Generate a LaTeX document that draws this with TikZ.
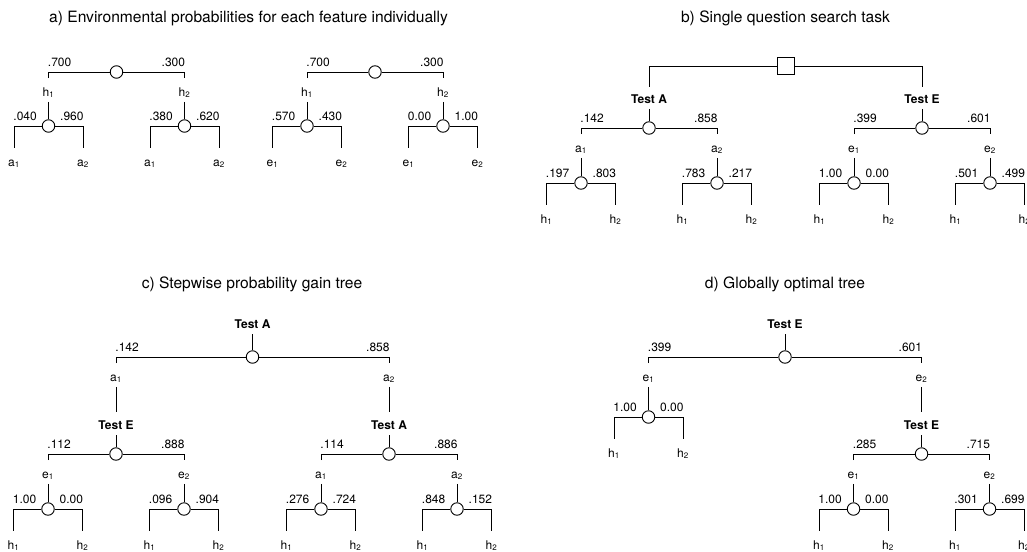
\documentclass[tikz,border=0pt,12pt]{standalone}
\usepackage{fontspec}
\setmainfont{TeX Gyre Heros}
\usepackage{tikz}

\begin{document}
\begin{tikzpicture}[x=1pt,y=-1pt,line width=0.9pt]
\tikzstyle{chance}=[circle,draw,fill=white,minimum size=12.5pt,inner sep=0pt]
\tikzstyle{choice}=[rectangle,draw,fill=white,minimum size=17pt,inner sep=0pt]
\tikzstyle{title}=[anchor=base,font=\fontsize{15.6}{18}\selectfont]
\tikzstyle{prob}=[inner sep=0pt]
\tikzstyle{outc}=[inner sep=0pt,text height=9pt,text depth=3pt,anchor=base]
\tikzstyle{test}=[font=\bfseries,inner sep=0pt,text height=9pt,text depth=0pt,anchor=base]
\tikzstyle{down}=[shorten <=2.5pt]
\useasboundingbox (0,0) rectangle (1027,551);
% panel titles
\foreach \name/\x/\y/\txt in {
	ta/248.5/22.5/{a) Environmental probabilities for each feature individually},
	tb/785.5/22.5/{b) Single question search task},
	tc/252/288/{c) Stepwise probability gain tree},
	td/785/288/{d) Globally optimal tree}}
	\node[title] (\name) at (\x,\y) {\txt};
% chance nodes with their two branches
\foreach \name/\x/\y/\w/\pa/\pb/\v/\dy/\s in {
	a1/116.5/72/68/.700/.300/h/24/8.5,
	a2/48.5/126/34.5/.040/.960/a/40/9,
	a3/184.5/126/34.5/.380/.620/a/40/9,
	a4/375/72/68/.700/.300/h/24/8.5,
	a5/307/126/34.5/.570/.430/e/40/9,
	a6/443/126/34.5/0.00/1.00/e/40/9,
	b1/649/128/68/.142/.858/a/24/8.5,
	b2/581/183/34.5/.197/.803/h/40/9,
	b3/717/183/34.5/.783/.217/h/40/9,
	b4/922/128/68/.399/.601/e/24/8.5,
	b5/854/183/34.5/1.00/0.00/h/40/9,
	b6/990/183/34.5/.501/.499/h/40/9,
	c1/252.5/357/136.5/.142/.858/a/24/8.5,
	c2/116/454/68/.112/.888/e/24/8.5,
	c3/48/509/34.5/1.00/0.00/h/40/9,
	c4/184/509/34.5/.096/.904/h/40/9,
	c5/389/454/68/.114/.886/a/24/8.5,
	c6/321/509/34.5/.276/.724/h/40/9,
	c7/457/509/34.5/.848/.152/h/40/9,
	d1/785/357/136.5/.399/.601/e/24/8.5,
	d2/648.5/417/34.5/1.00/0.00/h/40/9,
	d3/921.5/454/68/.285/.715/e/24/8.5,
	d4/853.5/509/34.5/1.00/0.00/h/40/9,
	d5/989.5/509/34.5/.301/.699/h/40/9}
{
	\node[chance] (\name) at (\x,\y) {};
	\node[prob,anchor=base west] (\name-pa) at (\x-\w-1,\y-5.5) {\pa};
	\node[prob,anchor=base east] (\name-pb) at (\x+\w+1,\y-5.5) {\pb};
	\node[outc] (\name-l) at (\x-\w,\y+\dy) {\v\textsubscript{1}};
	\node[outc] (\name-r) at (\x+\w,\y+\dy) {\v\textsubscript{2}};
	\draw[shorten <=\s pt] (\name-l) |- (\name);
	\draw[shorten >=\s pt] (\name) -| (\name-r);
}
% tests and the choice
\node[choice] (sq) at (785.5,66) {};
\foreach \name/\x/\y/\t in {
	bA/649/103/A, bE/922/103/E,
	cA/252.5/328.5/A, cE/116/429.5/E, cA2/389/429.5/A,
	dE/785/328.5/E, dE2/921.5/429.5/E}
	\node[test] (\name) at (\x,\y) {Test \t};
\draw[shorten >=7pt] (sq) -| (bA);
\draw[shorten >=7pt] (sq) -| (bE);
\foreach \a/\b in {bA/b1,bE/b4,cA/c1,cE/c2,cA2/c5,dE/d1,dE2/d3}
	\draw[shorten <=5.5pt] (\a) -- (\b);
\foreach \a/\b in {a1-l/a2,a1-r/a3,a4-l/a5,a4-r/a6,b1-l/b2,b1-r/b3,b4-l/b5,b4-r/b6,
	c2-l/c3,c2-r/c4,c5-l/c6,c5-r/c7,d1-l/d2,d3-l/d4,d3-r/d5}
	\draw[down] (\a) -- (\b);
\foreach \a/\b in {c1-l/cE,c1-r/cA2,d1-r/dE2}
	\draw[down,shorten >=8.5pt] (\a) -- (\b);
\end{tikzpicture}
\end{document}
